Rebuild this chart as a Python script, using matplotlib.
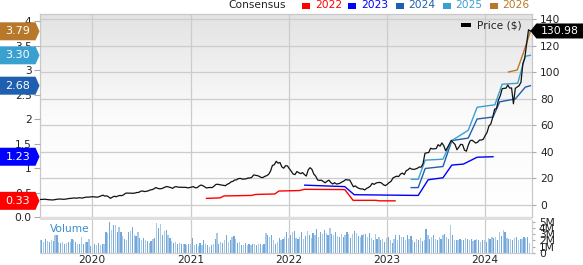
import matplotlib
matplotlib.use('Agg')
import matplotlib.pyplot as plt
import matplotlib.dates as mdates
from matplotlib.patches import Polygon, Rectangle
from matplotlib.colors import LinearSegmentedColormap
import numpy as np
import pandas as pd

plt.rcParams['font.family'] = ['DejaVu Sans']

# ---------------- data ----------------
price_2019 = [4.1, 4.1, 4.2, 4.2, 4.4, 4.2, 4.0, 3.9, 3.8, 3.9, 4.2, 4.4, 4.5, 4.4,
              4.3, 4.4, 4.6, 4.9, 5.0, 5.2, 5.3, 5.1, 5.4, 5.4, 5.2, 5.6, 5.9, 5.9]
price_2020 = [6.0, 6.2, 6.2, 6.0, 5.9, 6.3, 6.9, 7.4, 6.7, 6.9, 6.1, 5.0, 5.9, 6.6,
              6.2, 6.8, 7.2, 7.0, 7.7, 8.8, 9.0, 8.9, 8.9, 8.8, 9.0, 9.4, 9.5, 10.3,
              10.6, 10.1, 10.3, 10.6, 11.3, 11.5, 12.1, 13.1, 12.6, 12.2, 12.3, 12.8,
              13.5, 13.9, 13.5, 13.1, 12.5, 13.6, 13.8, 13.4, 13.4, 13.3, 13.3, 13.3, 12.9]
price_2021 = [13.1, 13.5, 13.8, 13.0, 13.0, 14.2, 15.0, 14.6, 13.7, 12.8, 13.1, 13.2,
              13.1, 14.2, 15.5, 15.6, 15.3, 15.0, 14.8, 14.5, 15.6, 16.2, 17.4, 17.8,
              18.8, 19.0, 19.9, 20.0, 19.5, 19.5, 19.7, 20.3, 20.3, 20.8, 22.6, 22.4,
              22.1, 21.6, 20.7, 20.7, 21.6, 22.1, 23.1, 25.5, 29.8, 30.3, 32.9, 31.5,
              32.0, 28.7, 27.7, 29.6, 29.4]
price_2022 = [27.3, 25.4, 23.3, 22.9, 25.2, 24.3, 23.6, 24.4, 22.9, 21.8, 26.4, 28.1,
              26.8, 23.2, 21.7, 18.8, 18.5, 18.7, 17.7, 16.7, 17.9, 18.7, 16.9, 15.8,
              16.8, 15.8, 16.0, 16.5, 17.4, 18.1, 19.2, 18.8, 18.9, 16.3, 13.7, 14.4,
              13.2, 12.5, 12.1, 12.1, 11.3, 12.5, 13.2, 14.2, 16.3, 15.5, 16.5, 16.9,
              17.0, 16.5, 15.2, 14.6]
price_2023 = [15.6, 16.9, 17.8, 20.3, 21.1, 21.7, 21.4, 23.2, 24.0, 22.9, 25.7, 26.5,
              27.8, 27.0, 26.8, 27.1, 27.7, 28.6, 28.5, 31.2, 38.9, 39.3, 39.5, 42.7,
              42.2, 42.3, 42.5, 45.4, 44.3, 46.7, 44.6, 40.8, 43.3, 46.0, 48.7, 47.0,
              45.5, 41.6, 43.5, 45.7, 45.4, 41.3, 40.5, 45.0, 48.3, 48.8, 47.7, 46.6,
              47.3, 48.9, 48.9, 49.5]
price_2024 = [52.3, 54.7, 59.5, 61.0, 66.1, 72.1, 72.6, 78.9, 82.2, 87.5, 87.8, 87.9,
              90.3, 88.0, 88.1, 76.2, 87.8, 88.8, 89.8, 92.4, 106.4, 110.5, 120.9, 131.9,
              130.98]
price_values = price_2019 + price_2020 + price_2021 + price_2022 + price_2023 + price_2024
price_end = '2024-06-17'
price_last = 130.98

volume_a = [2.1, 2.0, 1.8, 2.2, 1.9, 1.8, 2.0, 1.9, 2.8, 2.8, 1.7,
            1.6, 1.7, 1.5, 1.6, 1.7, 1.8, 2.2, 2.0, 1.8, 1.5, 1.4, 2.6,
            1.5, 1.7, 1.7, 2.3, 1.1, 1.0, 1.5, 1.3, 1.6, 1.2, 1.4, 1.5,
            3.4, 3.2, 5.0, 3.6, 4.5, 4.4, 3.3, 4.2, 3.4, 2.7, 2.2, 2.1, 3.3,
            3.5, 4.1, 2.8, 2.7, 3.3, 2.4, 2.1, 2.4, 2.0, 1.9, 1.6, 1.9, 2.2,
            2.4, 4.7, 3.9, 4.6, 2.9, 3.5, 3.7, 2.8, 2.4, 1.9,
            1.6, 1.7, 1.4, 1.6, 1.5, 1.5, 1.5, 1.3, 1.5, 1.5, 2.4, 1.2,
            1.4, 1.1, 1.6, 1.2, 2.0, 1.5, 1.2, 1.0, 1.2, 1.5, 2.2, 3.2, 1.4,
            1.8, 1.6, 2.1, 2.9, 1.7, 2.0, 2.6, 2.7, 2.2,
            1.6, 1.8, 1.3, 1.2, 1.6, 1.3, 1.5, 1.3, 1.4, 1.5, 1.2, 1.4, 1.4, 1.2,
            1.5, 3.2, 2.9, 2.6, 2.9, 2.1, 1.5, 1.7, 2.4, 2.0, 2.2, 2.6, 3.3, 2.4]
volume_2022 = [2.8, 3.3, 3.5, 2.4, 2.2, 2.6, 3.4, 2.3, 2.7, 3.5, 2.8, 2.4, 3.2, 2.9,
               3.8, 2.6, 3.3, 3.0, 3.6, 3.2, 2.8, 3.9, 3.0, 2.9, 3.4, 2.7, 2.5, 3.1,
               2.6, 2.9, 3.3, 3.1, 2.4, 3.0, 3.5, 3.2, 2.7, 2.5, 2.9, 3.1, 3.0, 2.6,
               3.2, 2.4, 2.1, 3.0, 2.3, 2.6, 2.0, 2.2, 1.8, 2.4]
volume_2023 = [2.5, 2.0, 1.6, 2.3, 2.8, 2.1, 2.9, 2.6, 2.5, 2.0, 2.9, 2.3, 2.7,
               2.1, 1.8, 2.2, 2.0, 2.4, 1.9, 2.1, 3.8, 2.8, 2.2, 2.6, 2.9, 2.3,
               2.0, 2.5, 2.3, 2.8, 3.1, 2.6, 2.3, 4.5, 2.9, 2.0, 2.1, 2.0, 2.3,
               2.1, 2.0, 2.4, 2.2, 2.0, 2.3, 1.9, 2.1, 2.2, 2.0, 1.7, 2.1, 2.0]
volume_2024 = [1.8, 2.4, 2.3, 2.5, 2.4, 2.6, 2.1, 3.3, 2.7, 3.7, 3.3, 2.4, 2.2,
               2.3, 2.1, 2.4, 2.6, 2.0, 2.2, 2.3, 2.6, 2.4, 2.5, 1.6]
volume_values = volume_a + volume_2022 + volume_2023 + volume_2024
volume_start = '2019-06-21'

eps_2022_dates = ['2021-03-01', '2021-04-20', '2021-05-05', '2021-08-15', '2021-08-30',
                  '2021-11-10', '2021-11-25', '2022-02-10', '2022-02-28', '2022-07-28',
                  '2022-08-28', '2022-11-20', '2022-12-05', '2023-01-31']
eps_2022_values = [0.38, 0.39, 0.43, 0.44, 0.46, 0.47, 0.53, 0.54, 0.565, 0.56,
                   0.34, 0.34, 0.33, 0.33]
eps_2023_dates = ['2022-03-01', '2022-07-28', '2022-09-01', '2023-04-27', '2023-06-03',
                  '2023-07-28', '2023-08-30', '2023-10-12', '2023-12-02', '2024-01-30']
eps_2023_values = [0.65, 0.62, 0.455, 0.44, 0.76, 0.80, 1.06, 1.08, 1.22, 1.23]
eps_2024_dates = ['2023-04-01', '2023-04-27', '2023-05-23', '2023-07-28', '2023-08-30',
                  '2023-10-30', '2023-12-02', '2024-01-30', '2024-02-24', '2024-04-22',
                  '2024-05-29', '2024-06-17']
eps_2024_values = [0.60, 0.60, 0.99, 1.03, 1.56, 1.61, 2.00, 2.04, 2.35, 2.41, 2.65, 2.68]
eps_2025_dates = ['2023-04-01', '2023-04-27', '2023-05-23', '2023-07-28', '2023-08-30',
                  '2023-10-30', '2023-12-02', '2024-02-06', '2024-03-04', '2024-05-01',
                  '2024-05-29', '2024-06-17']
eps_2025_values = [0.77, 0.77, 1.16, 1.18, 1.56, 1.77, 2.24, 2.29, 2.71, 2.73, 3.28, 3.30]
eps_2026_dates = ['2024-03-28', '2024-04-29', '2024-05-22', '2024-06-17']
eps_2026_values = [2.96, 3.00, 3.35, 3.79]

consensus_labels = ['2022', '2023', '2024', '2025', '2026']
consensus_last = [0.33, 1.23, 2.68, 3.30, 3.79]
consensus_badges = ['0.33', '1.23', '2.68', '3.30', '3.79']
consensus_colors = ['#ff0000', '#0000ff', '#1f5fb0', '#3aa0d0', '#b8782a']

year_labels = ['2020', '2021', '2022', '2023', '2024']
eps_ticks = [0, 0.5, 1, 1.5, 2, 2.5, 3, 3.5, 4]
eps_tick_labels = ['0.0', '0.5', '1', '1.5', '2', '2.5', '3', '3.5', '4']
price_ticks = [0, 20, 40, 60, 80, 100, 120, 140]
vol_ticks = [0, 1, 2, 3, 4, 5]
vol_tick_labels = ['0', '1M', '2M', '3M', '4M', '5M']

# ---------------- layout ----------------
W, H = 583, 265
fig = plt.figure(figsize=(W / 100, H / 100), dpi=100)
fig.patch.set_facecolor('white')
L, R = 40, 532


def rect(x0, ytop, x1, ybot):
    return [x0 / W, 1 - ybot / H, (x1 - x0) / W, (ybot - ytop) / H]


FS = 7.7
GRID = '#cccccc'
TXT = '#222222'

x_start = pd.Timestamp('2019-06-21')
x_end = pd.Timestamp('2024-06-23')
year_dates = [pd.Timestamp(y + '-01-01') for y in year_labels]

price_dates = pd.date_range(end=price_end, periods=len(price_values), freq='7D')
vol_dates = pd.date_range(start=volume_start, periods=len(volume_values), freq='7D')

eps_min, eps_max = 0.0, 4.143
p_min, p_max = -9.03, 143.76

# background axes with gradient + grid
bg = fig.add_axes(rect(L, 14, R, 217), zorder=0)
cmap = LinearSegmentedColormap.from_list('bg', ['#e3e3e3', '#fbfbfb', '#ffffff'])
grad = np.linspace(0, 1, 256).reshape(-1, 1)
bg.imshow(grad, extent=[0, 1, 0, 1], transform=bg.transAxes, cmap=cmap,
          aspect='auto', origin='upper', zorder=0)
bg.set_xlim(x_start, x_end)
bg.set_ylim(p_min, p_max)
for p in price_ticks:
    bg.axhline(p, color=GRID, lw=0.9, zorder=1)
for d in year_dates:
    bg.axvline(d, color=GRID, lw=0.9, zorder=1)
bg.set_xticks([])
bg.set_yticks([])
for s in bg.spines.values():
    s.set_color('#c8c8c8')
    s.set_linewidth(0.9)

ax = fig.add_axes(rect(L, 14, R, 217), zorder=1)
ax.patch.set_visible(False)
ax2 = ax.twinx()
ax2.patch.set_visible(False)
for a in (ax, ax2):
    for s in a.spines.values():
        s.set_visible(False)

eps_series = [(eps_2022_dates, eps_2022_values), (eps_2023_dates, eps_2023_values),
              (eps_2024_dates, eps_2024_values), (eps_2025_dates, eps_2025_values),
              (eps_2026_dates, eps_2026_values)]
for (ds, vs), c in zip(eps_series, consensus_colors):
    ax.plot(pd.to_datetime(ds), vs, color=c, lw=1.0, solid_joinstyle='round')

ax2.plot(price_dates, price_values, color='#111111', lw=0.9)

ax.set_xlim(x_start, x_end)
ax.set_ylim(eps_min, eps_max)
ax2.set_ylim(p_min, p_max)

ax.set_yticks(eps_ticks, eps_tick_labels)
ax.tick_params(axis='y', length=4, width=0.8, color='#aaaaaa', labelsize=FS,
               labelcolor=TXT, pad=2)
ax.tick_params(axis='x', length=0, labelbottom=False)
ax.set_xticks([])
ax2.set_yticks(price_ticks, [str(p) for p in price_ticks])
ax2.tick_params(axis='y', length=3, width=0.8, color='#aaaaaa', labelsize=FS,
                labelcolor=TXT, pad=3)

# volume panel
vax = fig.add_axes(rect(L, 220, R, 253), zorder=1)
bar_colors = ['#a9c9e9' if i % 2 == 0 else '#72a8dc' for i in range(len(volume_values))]
vax.bar(vol_dates, volume_values, width=4.5, color=bar_colors, lw=0, zorder=2)
vax.set_xlim(x_start, x_end)
vax.set_ylim(0, 5.25)
vax.set_xticks(year_dates, year_labels)
vax.xaxis.grid(True, color=GRID, lw=0.9, zorder=0)
vax.set_axisbelow(True)
vax.yaxis.tick_right()
vax.set_yticks(vol_ticks, vol_tick_labels)
vax.tick_params(axis='y', length=2, color='#aaaaaa', labelsize=FS, labelcolor=TXT, pad=3)
vax.tick_params(axis='x', length=0, labelsize=FS, labelcolor=TXT, pad=1.2)
for k, s in vax.spines.items():
    s.set_color('#cccccc')
    s.set_linewidth(0.9)
vax.spines['top'].set_visible(False)
vax.spines['left'].set_visible(False)

# separator band between panels
fig.add_artist(Rectangle((L / W, 1 - 220 / H), (R - L) / W, 3 / H,
                         transform=fig.transFigure, facecolor='#dedede',
                         edgecolor='none', zorder=3))

fig.text(50 / W, 1 - 229 / H, 'Volume', color='#3a8ed0', fontsize=FS,
         va='center', ha='left', zorder=6)

# ---------------- badges ----------------
for v, lab, c in zip(consensus_last, consensus_badges, consensus_colors):
    yc = ax.transData.transform((0, v))[1]  # pixels from bottom
    hh = 9
    verts = [(0, yc - hh), (35.5, yc - hh), (39.5, yc), (35.5, yc + hh), (0, yc + hh)]
    verts = [(x / W, y / H) for x, y in verts]
    fig.add_artist(Polygon(verts, closed=True, transform=fig.transFigure,
                           facecolor=c, edgecolor='none', zorder=10))
    fig.text(18 / W, yc / H, lab, color='white', fontsize=8, ha='center',
             va='center', zorder=11)

xt, yt = ax2.transData.transform((mdates.date2num(price_dates[-1]), price_last))
hh = 7.5
verts = [(xt, yt), (xt + 6, yt + hh), (W + 2, yt + hh), (W + 2, yt - hh), (xt + 6, yt - hh)]
verts = [(x / W, y / H) for x, y in verts]
fig.add_artist(Polygon(verts, closed=True, transform=fig.transFigure,
                       facecolor='black', edgecolor='none', zorder=10))
fig.text(560 / W, yt / H, f'{price_last:.2f}', color='white', fontsize=7.8,
         ha='center', va='center', zorder=11)

# ---------------- legends ----------------
ly = 1 - 5.5 / H
fig.text(228 / W, ly, 'Consensus', color=TXT, fontsize=FS, ha='left', va='center')
sq_x = [302, 348, 396, 443, 490]
tx_x = [315, 361, 408, 455, 502]
for sx, tx, lab, c in zip(sq_x, tx_x, consensus_labels, consensus_colors):
    fig.add_artist(Rectangle((sx / W, 1 - 9 / H), 8 / W, 6.5 / H,
                             transform=fig.transFigure, facecolor=c, edgecolor='none'))
    fig.text(tx / W, ly, lab, color=c, fontsize=FS, ha='left', va='center')

fig.add_artist(Rectangle((461 / W, 1 - 27 / H), 9.5 / W, 4 / H,
                         transform=fig.transFigure, facecolor='black',
                         edgecolor='none', zorder=6))
fig.text(477 / W, 1 - 25 / H, 'Price ($)', color=TXT, fontsize=FS,
         ha='left', va='center', zorder=6)

fig.savefig('out.png', dpi=100, facecolor='white')
